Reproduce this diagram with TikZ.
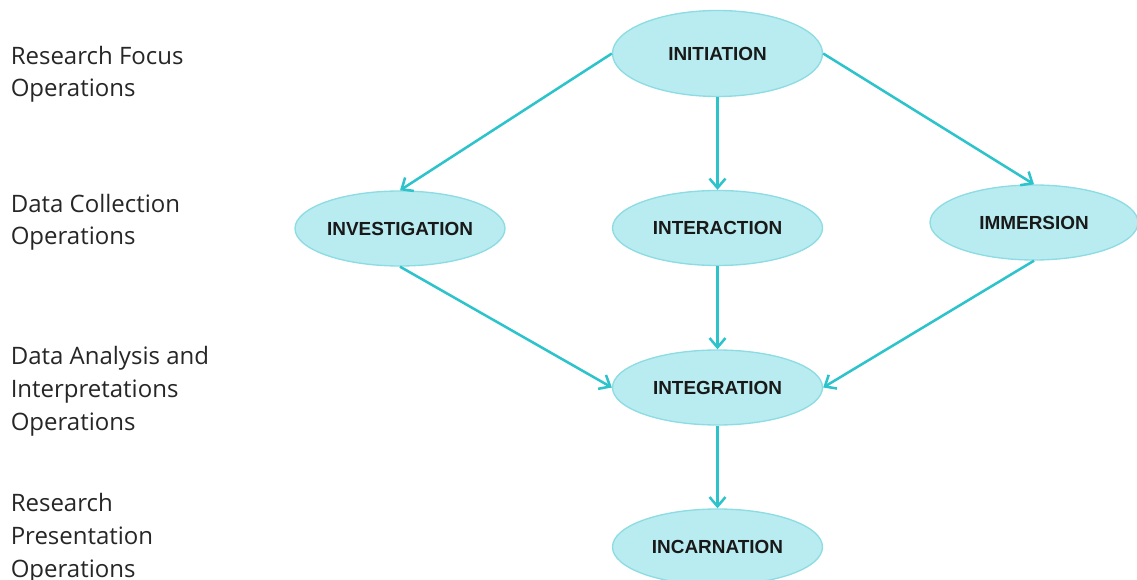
\documentclass[tikz,border=0pt]{standalone}
\usepackage{fontspec}
\setmainfont{Open Sans}
\newfontfamily\stagefont{Liberation Sans}
\usetikzlibrary{shapes.geometric,arrows.meta}
\definecolor{flowline}{HTML}{2CC3CB}
\definecolor{stagefill}{HTML}{B8ECF0}
\definecolor{stageedge}{HTML}{8EDCE3}
\definecolor{labeltext}{HTML}{262626}
\begin{document}
\begin{tikzpicture}[x=0.75pt,y=-0.75pt,
  stage/.style={ellipse,draw=stageedge,line width=1pt,fill=stagefill,
    minimum width=157.5pt,minimum height=56.25pt,inner sep=0pt,
    font=\stagefont\bfseries\fontsize{14.2}{16}\selectfont,text=black!90},
  phase/.style={anchor=base west,align=left,inner sep=0pt,text=labeltext,
    font=\fontsize{18}{24.4}\selectfont},
  flow/.style={draw=flowline,line width=1.9pt,
    -{Straight Barb[length=7pt,width=12pt,line width=1.9pt]}}]
\useasboundingbox (0,0) rectangle (1137,580);

% operation levels (anchored on the baseline of the last line)
\node[phase] (lvlfocus) at (10.5,97) {Research Focus\\Operations};
\node[phase] (lvlcollect) at (10.5,245) {Data Collection\\Operations};
\node[phase] (lvlanalysis) at (10.5,430) {Data Analysis and\\Interpretations\\Operations};
\node[phase] (lvlpresent) at (10.5,577) {Research\\Presentation\\Operations};

% stages
\node[stage,minimum height=64.5pt] (init) at (717.5,53.5) {INITIATION};
\node[stage] (inv) at (400,228.5) {INVESTIGATION};
\node[stage] (inter) at (717.5,228) {INTERACTION};
\node[stage,minimum width=156pt] (imm) at (1034,222.5) {IMMERSION};
\node[stage] (integ) at (717.5,387.5) {INTEGRATION};
\node[stage,minimum height=57pt] (inc) at (717.5,547) {INCARNATION};

% flow between stages
\draw[flow] (init.west) -- (inv.north);
\draw[flow] (init.south) -- (inter.north);
\draw[flow] (init.east) -- (imm.north);
\draw[flow] (inv.south) -- (integ.west);
\draw[flow] (inter.south) -- (integ.north);
\draw[flow] (imm.south) -- (integ.east);
\draw[flow] (integ.south) -- (inc.north);
\end{tikzpicture}
\end{document}
